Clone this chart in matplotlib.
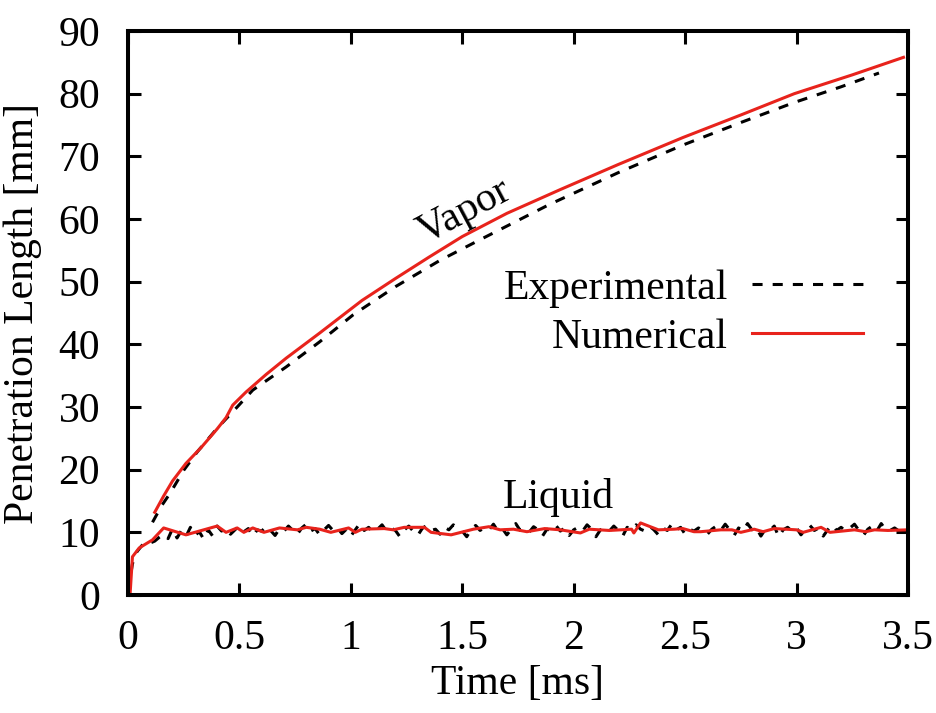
import numpy as np
import matplotlib
matplotlib.use("Agg")
import matplotlib.pyplot as plt

plt.rcParams['font.family'] = ['Liberation Serif']
plt.rcParams['font.size'] = 30

# vapor penetration, numerical (red) and experimental (dashed)
vap_num_t = [0.12, 0.16, 0.20, 0.26, 0.33, 0.40, 0.44, 0.47, 0.53, 0.62, 0.71, 0.86,
             1.05, 1.20, 1.35, 1.50, 1.70, 1.94, 2.20, 2.49, 2.75, 2.99, 3.25, 3.48]
vap_num_y = [13.2, 15.8, 18.2, 21.0, 23.6, 26.5, 28.3, 30.3, 32.4, 35.2, 37.8, 41.8,
             47.0, 50.5, 53.9, 57.2, 60.9, 64.7, 68.7, 73.0, 76.6, 80.0, 83.0, 85.8]

vap_exp_t = [0.11, 0.15, 0.19, 0.25, 0.31, 0.40, 0.49, 0.56, 0.71, 0.86, 1.01, 1.20,
             1.40, 1.58, 1.89, 2.20, 2.49, 2.75, 2.99, 3.20, 3.37]
vap_exp_y = [11.6, 14.2, 16.3, 19.9, 22.8, 26.6, 30.0, 32.7, 36.4, 40.4, 44.7, 49.2,
             53.4, 56.7, 62.3, 67.4, 71.8, 75.4, 78.6, 81.1, 83.3]

# liquid penetration, numerical
liq_num_t = [0.01, 0.02, 0.05, 0.11, 0.16, 0.26, 0.40, 0.44, 0.49, 0.52, 0.56, 0.61,
             0.68, 0.76, 0.80, 0.86, 0.91, 0.99, 1.02, 1.05, 1.15, 1.19, 1.24, 1.33,
             1.36, 1.45, 1.55, 1.62, 1.67, 1.73, 1.79, 1.87, 1.94, 2.03, 2.07, 2.16,
             2.26, 2.27, 2.30, 2.38, 2.45, 2.49, 2.54, 2.57, 2.66, 2.71, 2.75, 2.81,
             2.85, 2.90, 3.00, 3.03, 3.11, 3.15, 3.26, 3.31, 3.35, 3.41, 3.50]
liq_num_y = [0.5, 6.1, 7.5, 8.8, 10.7, 9.6, 11.0, 10.0, 10.7, 10.0, 10.7, 10.0,
             10.7, 10.4, 10.8, 10.5, 10.0, 10.7, 10.0, 10.5, 10.6, 10.4, 10.8, 10.8,
             10.0, 9.6, 10.5, 10.9, 10.4, 10.5, 10.1, 10.6, 10.4, 9.9, 10.5, 10.3,
             10.5, 9.9, 11.5, 10.4, 10.5, 10.6, 10.1, 10.1, 10.4, 10.4, 10.0, 10.5,
             10.1, 10.6, 10.4, 10.0, 10.8, 10.0, 10.4, 10.1, 10.4, 10.3, 10.4]

# liquid penetration, experimental (sampled every 0.02 ms)
liq_exp_t = np.round(np.arange(176) * 0.02, 2)
liq_exp_y = [0.5, 5.0, 6.9, 7.8, 8.5, 8.3, 8.6, 9.2, 9.7, 9.0,
             10.6, 9.1, 10.3, 9.3, 10.8, 9.5, 10.1, 8.9, 10.4, 9.4,
             11.0, 10.2, 10.7, 9.7, 10.4, 11.1, 10.1, 10.6, 9.4, 10.4,
             10.2, 10.9, 10.3, 9.5, 10.6, 10.2, 11.0, 10.3, 9.7, 10.7,
             11.3, 10.2, 10.6, 9.6, 10.4, 11.1, 10.3, 10.7, 9.8, 10.5,
             9.4, 10.4, 11.4, 10.3, 10.8, 10.0, 10.5, 11.2, 10.2, 10.7,
             10.3, 9.3, 10.4, 11.0, 10.2, 9.5, 10.6, 11.1, 10.3, 10.5,
             9.7, 10.8, 10.4, 11.2, 10.6, 10.2, 9.3, 10.5, 11.1, 10.3,
             10.8, 10.4, 11.3, 10.2, 10.6, 9.6, 10.5, 11.4, 10.3, 10.6,
             10.0, 10.9, 10.4, 9.4, 10.5, 10.3, 11.1, 10.2, 10.7, 9.5,
             10.4, 10.8, 10.2, 11.2, 10.5, 9.3, 10.4, 10.7, 10.2, 11.0,
             10.3, 9.4, 10.8, 10.4, 11.2, 10.5, 10.2, 11.0, 10.4, 9.6,
             10.7, 10.3, 11.3, 10.4, 10.8, 9.7, 10.5, 10.2, 10.7, 10.3,
             9.7, 10.5, 11.0, 10.3, 11.3, 10.4, 9.5, 10.7, 10.2, 11.4,
             10.4, 10.7, 9.4, 10.5, 10.3, 11.0, 9.3, 10.4, 10.8, 10.2,
             10.7, 9.6, 10.5, 11.1, 10.3, 10.7, 9.4, 10.4, 11.2, 10.3,
             10.8, 10.2, 10.7, 11.3, 10.3, 9.5, 10.5, 11.0, 10.2, 11.4,
             10.4, 10.3, 10.7, 10.2, 10.5, 10.4]

red = '#e8231c'
dash = (0, (3.3, 3.3))

fig = plt.figure(figsize=(9.37, 7.13), dpi=100)
ax = fig.add_axes([0.1366, 0.1655, 0.8324, 0.791])

ax.plot(vap_exp_t, vap_exp_y, color='black', lw=2.2, linestyle=dash, label='Experimental')
ax.plot(liq_exp_t, liq_exp_y, color='black', lw=2.2, linestyle=dash)
ax.plot(vap_num_t, vap_num_y, color=red, lw=2.2, label='Numerical')
ax.plot(liq_num_t, liq_num_y, color=red, lw=2.2)

ax.text(1.51, 61.1, 'Vapor', rotation=28, ha='center', va='center')
ax.text(1.93, 13.9, 'Liquid', ha='center', va='baseline')

ax.set_xlim(0, 3.5)
ax.set_ylim(0, 90)
ax.set_xticks([0, 0.5, 1, 1.5, 2, 2.5, 3, 3.5])
ax.set_xticklabels(['0', '0.5', '1', '1.5', '2', '2.5', '3', '3.5'])
ax.set_yticks(range(0, 91, 10))
ax.tick_params(direction='in', length=9, width=2.2, top=True, right=True)
ax.tick_params(axis='x', pad=18)
ax.tick_params(axis='y', pad=20)
for s in ax.spines.values():
    s.set_linewidth(2.9)

ax.set_xlabel('Time [ms]', labelpad=4)
ax.set_ylabel('Penetration Length [mm]', labelpad=12)

ax.legend(loc='center right', bbox_to_anchor=(0.942, 0.50), frameon=False,
          markerfirst=False, handlelength=2.66, handletextpad=0.58,
          labelspacing=0.25, borderpad=0, borderaxespad=0)

fig.savefig('out.png', dpi=100)
